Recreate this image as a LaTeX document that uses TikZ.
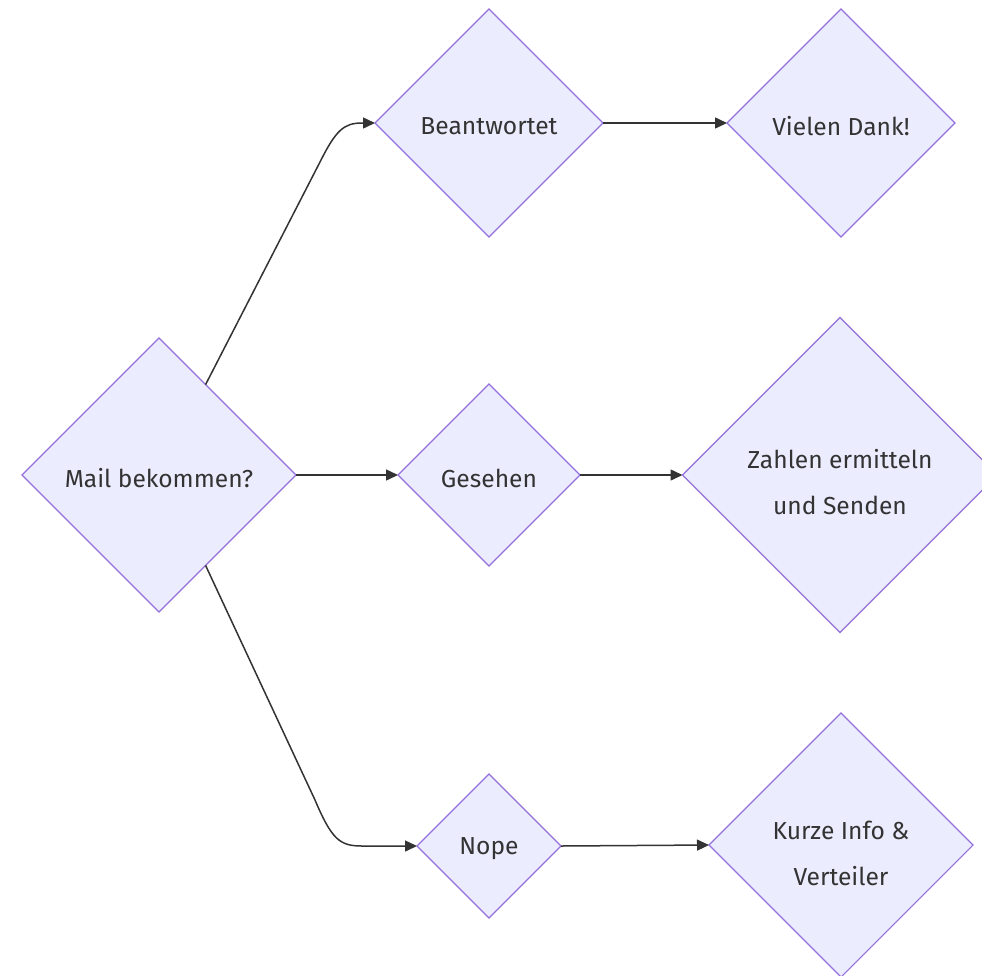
\documentclass[tikz,border=0pt]{standalone}
\usepackage{fontspec}
\setmainfont{Fira Sans}
\usetikzlibrary{shapes.geometric,arrows.meta,calc}
\definecolor{nodefill}{HTML}{ECECFF}
\definecolor{nodeline}{HTML}{9370DB}
\definecolor{txt}{HTML}{333333}
\begin{document}
\begin{tikzpicture}[x=1pt,y=-1pt,
  dia/.style={diamond, aspect=1, draw=nodeline, fill=nodefill, line width=1.1pt, inner sep=0pt, outer sep=0pt},
  lbl/.style={text=txt, font=\fontsize{24.6}{46}\selectfont, align=center, inner sep=0pt},
  conn/.style={draw=txt, line width=1.5pt, -{Triangle[length=12pt,width=11pt]}}]
\useasboundingbox (0,0) rectangle (982,975);
\clip (0,0) rectangle (982,975);
\node[dia, minimum size=274pt] (mail) at (159,475) {};
\node[dia, minimum size=228pt] (bea) at (489,123) {};
\node[dia, minimum size=228pt] (vie) at (841,123) {};
\node[dia, minimum size=182pt] (ges) at (489,475) {};
\node[dia, minimum size=315pt] (zah) at (840,475) {};
\node[dia, minimum size=144pt] (nope) at (489,846) {};
\node[dia, minimum size=264pt] (kur) at (841,845) {};
\node[lbl] (mailt) at ([yshift=-3pt]mail.center) {Mail bekommen?};
\node[lbl] (beat) at ([yshift=-3pt]bea.center) {Beantwortet};
\node[lbl] (viet) at ([yshift=-3pt]vie.center) {Vielen Dank!};
\node[lbl] (gest) at ([yshift=-3pt]ges.center) {Gesehen};
\node[lbl] (zaht) at ([yshift=-7pt]zah.center) {Zahlen ermitteln\\und Senden};
\node[lbl] (nopet) at ([yshift=-3pt]nope.center) {Nope};
\node[lbl] (kurt) at ([yshift=-8pt]kur.center) {Kurze Info \&\\Verteiler};
\draw[conn] ($(mail.north)!0.34!(mail.east)$) -- (320,162) .. controls (336,130) and (344,123) .. (362,123) -- (bea.west);
\draw[conn] (mail.east) -- (ges.west);
\draw[conn] ($(mail.south)!0.34!(mail.east)$) -- (315,800) .. controls (332,840) and (340,846) .. (362,846) -- (nope.west);
\draw[conn] (bea.east) -- (vie.west);
\draw[conn] (ges.east) -- (zah.west);
\draw[conn] (nope.east) -- (kur.west);
\end{tikzpicture}
\end{document}
